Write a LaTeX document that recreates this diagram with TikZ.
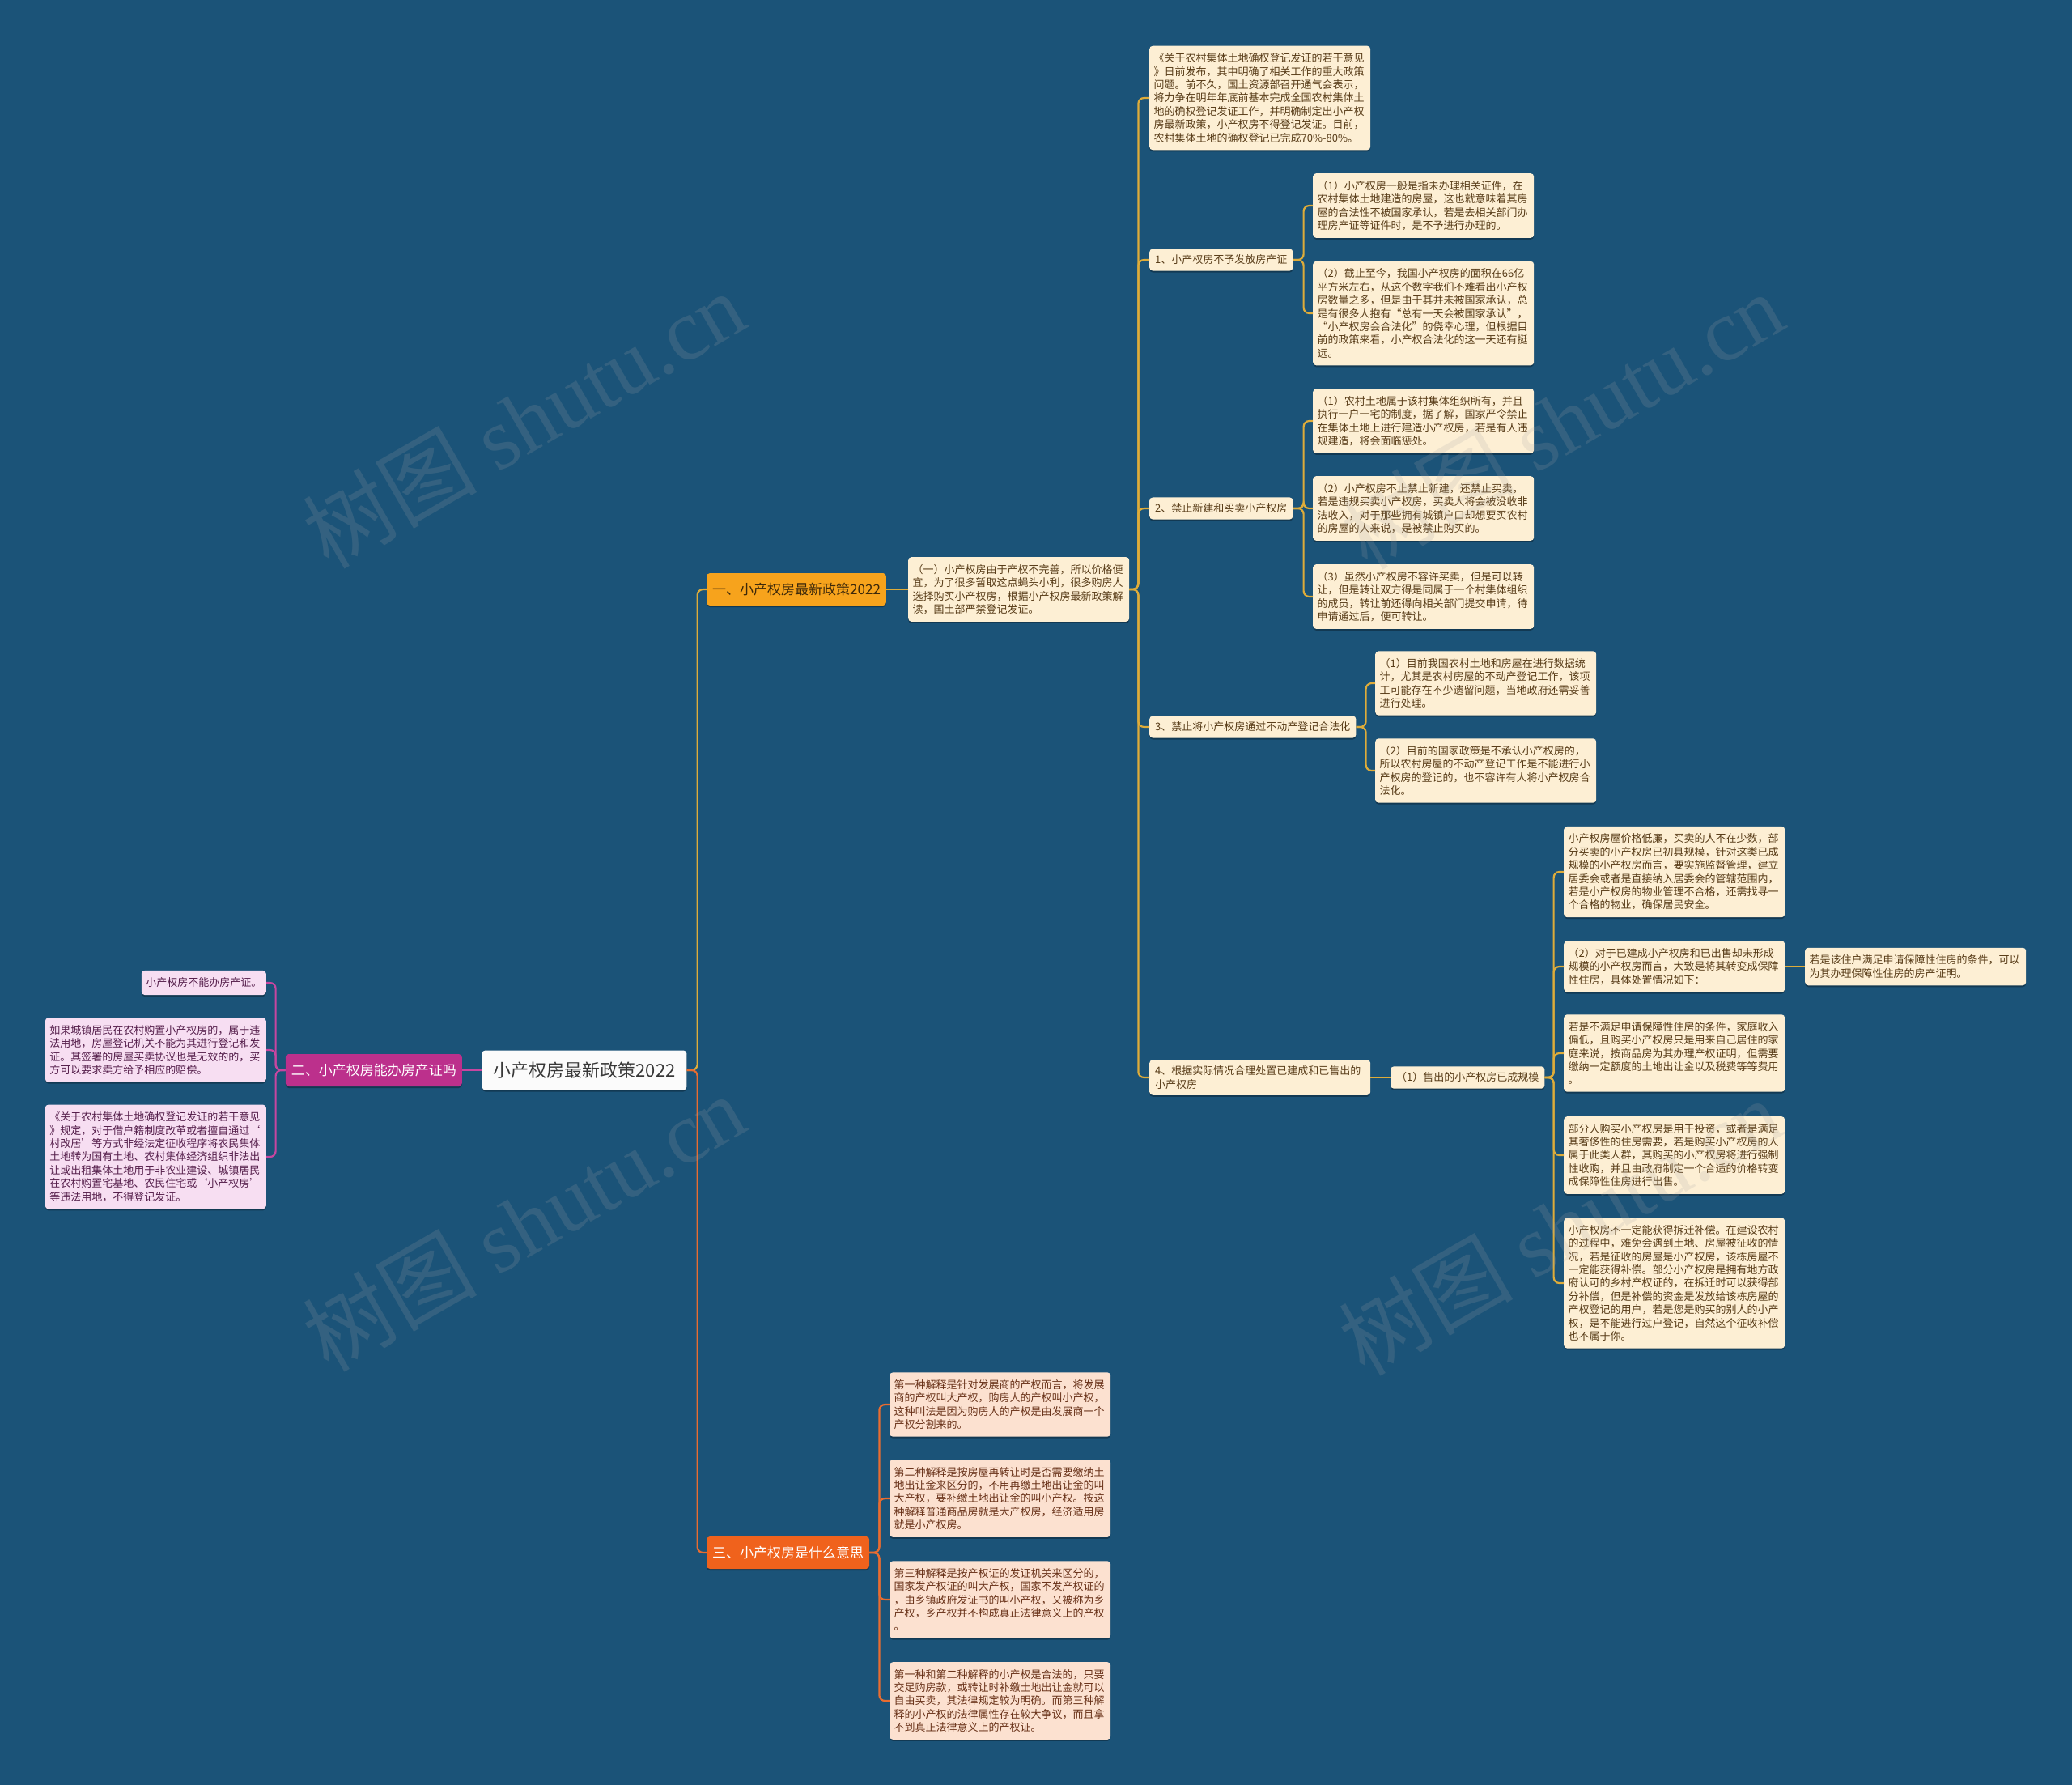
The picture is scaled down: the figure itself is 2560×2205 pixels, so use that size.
\documentclass[tikz,border=0pt]{standalone}
\usepackage{fontspec}
\setmainfont{Noto Sans CJK SC}
\newfontfamily\wmlatin{Liberation Serif}
\usetikzlibrary{shadows}

\definecolor{bgblue}{RGB}{27,83,120}
\definecolor{leafY}{RGB}{253,239,212}
\definecolor{leafYtext}{RGB}{88,60,24}
\definecolor{linkYc}{RGB}{222,172,58}
\definecolor{oneFill}{RGB}{247,163,28}
\definecolor{twoFill}{RGB}{188,48,140}
\definecolor{linkMc}{RGB}{200,70,160}
\definecolor{leafM}{RGB}{247,222,242}
\definecolor{leafMtext}{RGB}{85,30,75}
\definecolor{threeFill}{RGB}{240,98,28}
\definecolor{linkRc}{RGB}{232,108,48}
\definecolor{leafR}{RGB}{252,225,208}
\definecolor{leafRtext}{RGB}{105,50,25}

\tikzset{
  base/.style={rounded corners=4pt, align=left,
    drop shadow={shadow xshift=0pt, shadow yshift=-2pt, opacity=0.3, fill=black}},
  leaf/.style={base, fill=leafY, text=leafYtext, text width=262pt,
    inner xsep=5.5pt, inner ysep=9pt, font=\fontsize{13}{16.4}\selectfont},
  leafm/.style={leaf, fill=leafM, text=leafMtext},
  leafr/.style={leaf, fill=leafR, text=leafRtext},
  mid/.style={base, fill=leafY, text=leafYtext, inner xsep=7pt, inner ysep=7.5pt,
    font=\fontsize{13}{16.4}\selectfont},
  branch/.style={base, minimum height=40pt, inner xsep=7pt, font=\fontsize{17}{20}\selectfont},
  linkY/.style={draw=linkYc, line width=2.2pt, rounded corners=7pt},
  linkM/.style={draw=linkMc, line width=2.2pt, rounded corners=7pt},
  linkR/.style={draw=linkRc, line width=2.2pt, rounded corners=7pt},
  wm/.style={text=gray!70, opacity=0.18, rotate=30, font=\fontsize{108}{112}\selectfont}
}

\begin{document}
\begin{tikzpicture}[x=1pt,y=-1pt]
\fill[bgblue] (0,0) rectangle (2560,2205);

\node[base, fill=white!97!gray, text={rgb,255:red,55;green,55;blue,55}, minimum height=49pt,
  inner xsep=14pt, font=\fontsize{22}{26}\selectfont] (root) at (722,1322) {小产权房最新政策2022};
\node[branch, fill=oneFill, text={rgb,255:red,60;green,40;blue,10}, anchor=west] (one) at (873,728) {一、小产权房最新政策2022};
\node[branch, fill=twoFill, text=white, anchor=east] (two) at (571,1322) {二、小产权房能办房产证吗};
\node[branch, fill=threeFill, text=white, anchor=west] (three) at (873,1918) {三、小产权房是什么意思};

\node[leaf, anchor=west] (oneS) at (1122,728) {（一）小产权房由于产权不完善，所以价格便\\宜，为了很多暂取这点蝇头小利，很多购房人\\选择购买小产权房，根据小产权房最新政策解\\读，国土部严禁登记发证。};

\node[leaf, anchor=west] (oneTop) at (1420,121) {《关于农村集体土地确权登记发证的若干意见\\》日前发布，其中明确了相关工作的重大政策\\问题。前不久，国土资源部召开通气会表示，\\将力争在明年年底前基本完成全国农村集体土\\地的确权登记发证工作，并明确制定出小产权\\房最新政策，小产权房不得登记发证。目前，\\农村集体土地的确权登记已完成70\%-80\%。};
\node[mid, anchor=west] (oneA) at (1420,321) {1、小产权房不予发放房产证};
\node[mid, anchor=west] (oneB) at (1420,628) {2、禁止新建和买卖小产权房};
\node[mid, anchor=west] (oneC) at (1420,898) {3、禁止将小产权房通过不动产登记合法化};
\node[mid, anchor=west, text width=259pt] (oneD) at (1420,1331) {4、根据实际情况合理处置已建成和已售出的\\小产权房};

\node[leaf, anchor=west] (oneA1) at (1622,254) {（1）小产权房一般是指未办理相关证件，在\\农村集体土地建造的房屋，这也就意味着其房\\屋的合法性不被国家承认，若是去相关部门办\\理房产证等证件时，是不予进行办理的。};
\node[leaf, anchor=west] (oneA2) at (1622,387) {（2）截止至今，我国小产权房的面积在66亿\\平方米左右，从这个数字我们不难看出小产权\\房数量之多，但是由于其并未被国家承认，总\\是有很多人抱有“总有一天会被国家承认”，\\“小产权房会合法化”的侥幸心理，但根据目\\前的政策来看，小产权合法化的这一天还有挺\\远。};

\node[leaf, anchor=west] (oneB1) at (1622,520) {（1）农村土地属于该村集体组织所有，并且\\执行一户一宅的制度，据了解，国家严令禁止\\在集体土地上进行建造小产权房，若是有人违\\规建造，将会面临惩处。};
\node[leaf, anchor=west] (oneB2) at (1622,628) {（2）小产权房不止禁止新建，还禁止买卖，\\若是违规买卖小产权房，买卖人将会被没收非\\法收入，对于那些拥有城镇户口却想要买农村\\的房屋的人来说，是被禁止购买的。};
\node[leaf, anchor=west] (oneB3) at (1622,737) {（3）虽然小产权房不容许买卖，但是可以转\\让，但是转让双方得是同属于一个村集体组织\\的成员，转让前还得向相关部门提交申请，待\\申请通过后，便可转让。};

\node[leaf, anchor=west] (oneC1) at (1699,844) {（1）目前我国农村土地和房屋在进行数据统\\计，尤其是农村房屋的不动产登记工作，该项\\工可能存在不少遗留问题，当地政府还需妥善\\进行处理。};
\node[leaf, anchor=west] (oneC2) at (1699,952) {（2）目前的国家政策是不承认小产权房的，\\所以农村房屋的不动产登记工作是不能进行小\\产权房的登记的，也不容许有人将小产权房合\\法化。};

\node[mid, anchor=west] (oneD1) at (1718,1331) {（1）售出的小产权房已成规模};

\node[leaf, anchor=west] (oneD1a) at (1932,1077) {小产权房屋价格低廉，买卖的人不在少数，部\\分买卖的小产权房已初具规模，针对这类已成\\规模的小产权房而言，要实施监督管理，建立\\居委会或者是直接纳入居委会的管辖范围内，\\若是小产权房的物业管理不合格，还需找寻一\\个合格的物业，确保居民安全。};
\node[leaf, anchor=west] (oneD1b) at (1932,1194) {（2）对于已建成小产权房和已出售却未形成\\规模的小产权房而言，大致是将其转变成保障\\性住房，具体处置情况如下：};
\node[leaf, anchor=west] (oneD1c) at (1932,1301) {若是不满足申请保障性住房的条件，家庭收入\\偏低，且购买小产权房只是用来自己居住的家\\庭来说，按商品房为其办理产权证明，但需要\\缴纳一定额度的土地出让金以及税费等等费用\\。};
\node[leaf, anchor=west] (oneD1d) at (1932,1427) {部分人购买小产权房是用于投资，或者是满足\\其奢侈性的住房需要，若是购买小产权房的人\\属于此类人群，其购买的小产权房将进行强制\\性收购，并且由政府制定一个合适的价格转变\\成保障性住房进行出售。};
\node[leaf, anchor=west] (oneD1e) at (1932,1585) {小产权房不一定能获得拆迁补偿。在建设农村\\的过程中，难免会遇到土地、房屋被征收的情\\况，若是征收的房屋是小产权房，该栋房屋不\\一定能获得补偿。部分小产权房是拥有地方政\\府认可的乡村产权证的，在拆迁时可以获得部\\分补偿，但是补偿的资金是发放给该栋房屋的\\产权登记的用户，若是您是购买的别人的小产\\权，是不能进行过户登记，自然这个征收补偿\\也不属于你。};
\node[leaf, anchor=west] (oneD1bx) at (2230,1194) {若是该住户满足申请保障性住房的条件，可以\\为其办理保障性住房的房产证明。};

\node[leafm, anchor=east, text width={}] (twoA) at (329,1214) {小产权房不能办房产证。};
\node[leafm, anchor=east] (twoB) at (329,1297) {如果城镇居民在农村购置小产权房的，属于违\\法用地，房屋登记机关不能为其进行登记和发\\证。其签署的房屋买卖协议也是无效的的，买\\方可以要求卖方给予相应的赔偿。};
\node[leafm, anchor=east] (twoC) at (329,1429) {《关于农村集体土地确权登记发证的若干意见\\》规定，对于借户籍制度改革或者擅自通过‘\\村改居’等方式非经法定征收程序将农民集体\\土地转为国有土地、农村集体经济组织非法出\\让或出租集体土地用于非农业建设、城镇居民\\在农村购置宅基地、农民住宅或‘小产权房’\\等违法用地，不得登记发证。};

\node[leafr, anchor=west] (threeA) at (1099,1735) {第一种解释是针对发展商的产权而言，将发展\\商的产权叫大产权，购房人的产权叫小产权，\\这种叫法是因为购房人的产权是由发展商一个\\产权分割来的。};
\node[leafr, anchor=west] (threeB) at (1099,1851) {第二种解释是按房屋再转让时是否需要缴纳土\\地出让金来区分的，不用再缴土地出让金的叫\\大产权，要补缴土地出让金的叫小产权。按这\\种解释普通商品房就是大产权房，经济适用房\\就是小产权房。};
\node[leafr, anchor=west] (threeC) at (1099,1976) {第三种解释是按产权证的发证机关来区分的，\\国家发产权证的叫大产权，国家不发产权证的\\，由乡镇政府发证书的叫小产权，又被称为乡\\产权，乡产权并不构成真正法律意义上的产权\\。};
\node[leafr, anchor=west] (threeD) at (1099,2101) {第一种和第二种解释的小产权是合法的，只要\\交足购房款，或转让时补缴土地出让金就可以\\自由买卖，其法律规定较为明确。而第三种解\\释的小产权的法律属性存在较大争议，而且拿\\不到真正法律意义上的产权证。};

\draw[linkY] (root.east) -- ++(13,0) |- (one.west);
\draw[linkR] (root.east) -- ++(13,0) |- (three.west);
\draw[linkM] (root.west) -- (two.east);
\draw[linkY] (one.east) -- (oneS.west);
\foreach \n in {oneTop,oneA,oneB,oneC,oneD}
  \draw[linkY] (oneS.east) -- ++(11,0) |- (\n.west);
\foreach \n in {oneA1,oneA2}
  \draw[linkY] (oneA.east) -- ++(13,0) |- (\n.west);
\foreach \n in {oneB1,oneB2,oneB3}
  \draw[linkY] (oneB.east) -- ++(13,0) |- (\n.west);
\foreach \n in {oneC1,oneC2}
  \draw[linkY] (oneC.east) -- ++(12,0) |- (\n.west);
\draw[linkY] (oneD.east) -- (oneD1.west);
\foreach \n in {oneD1a,oneD1b,oneD1c,oneD1d,oneD1e}
  \draw[linkY] (oneD1.east) -- ++(11,0) |- (\n.west);
\draw[linkY] (oneD1b.east) -- (oneD1bx.west);
\foreach \n in {twoA,twoB,twoC}
  \draw[linkM] (two.west) -- ++(-12,0) |- (\n.east);
\foreach \n in {threeA,threeB,threeC,threeD}
  \draw[linkR] (three.east) -- ++(12,0) |- (\n.west);

% watermark
\node[wm] (wmA) at (647,518) {树图 {\wmlatin shutu.cn}};
\node[wm] (wmB) at (1930,519) {树图 {\wmlatin shutu.cn}};
\node[wm] (wmC) at (647,1510) {树图 {\wmlatin shutu.cn}};
\node[wm] (wmD) at (1927,1515) {树图 {\wmlatin shutu.cn}};
\end{tikzpicture}
\end{document}
